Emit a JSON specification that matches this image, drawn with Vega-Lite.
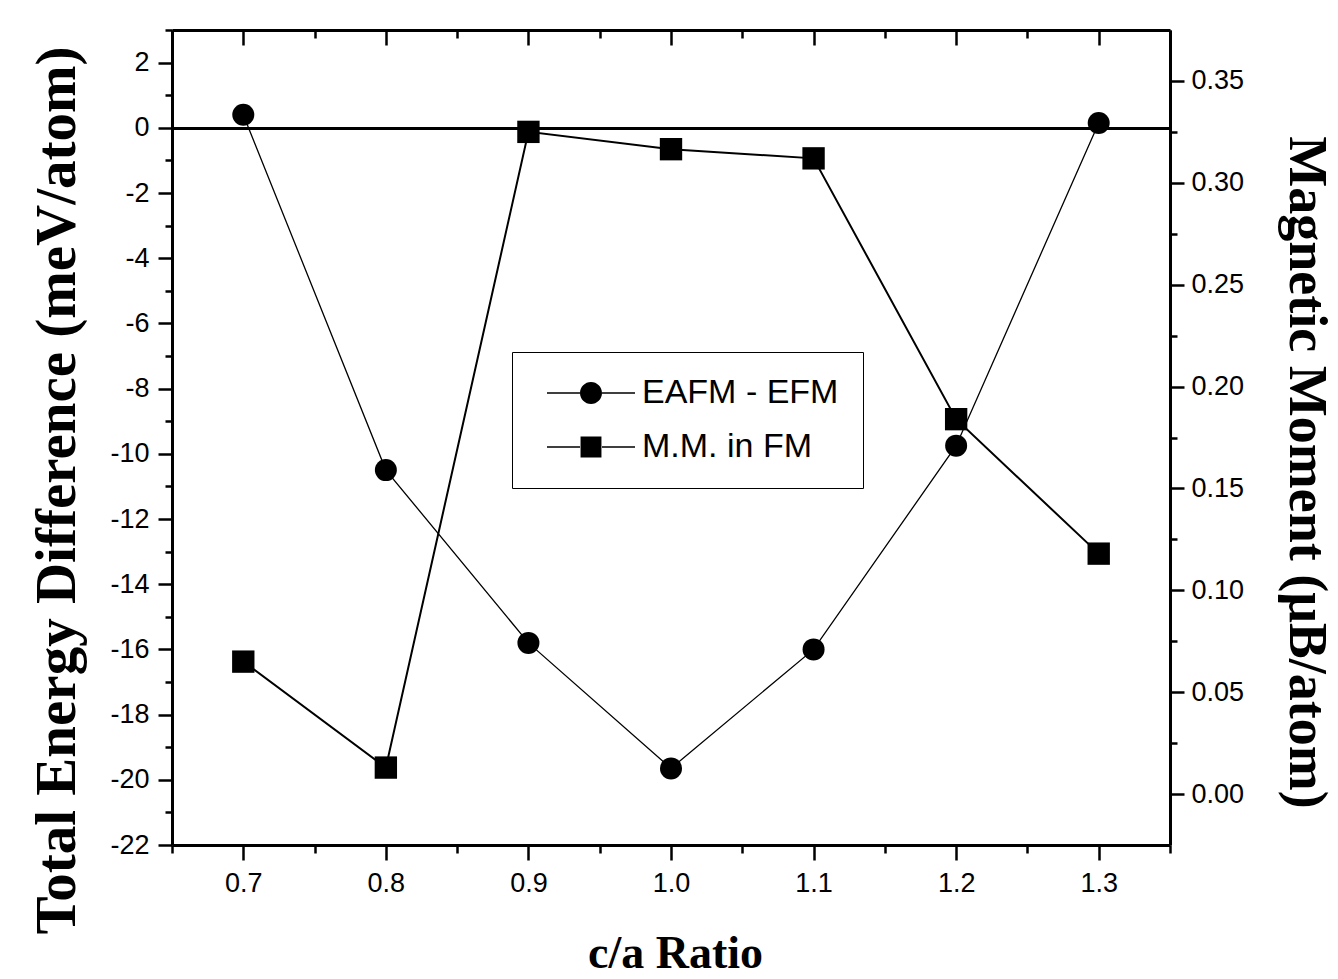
{
  "$schema": "https://vega.github.io/schema/vega-lite/v6.json",
  "width": 998,
  "height": 815,
  "autosize": {"type": "none"},
  "padding": {"left": 172, "top": 30, "right": 168, "bottom": 134},
  "background": "white",
  "config": {
    "view": {"stroke": null},
    "axis": {
      "domainColor": "black",
      "domainWidth": 3,
      "tickColor": "black",
      "tickWidth": 2.5,
      "labelFont": "Liberation Sans",
      "labelFontSize": 27,
      "labelColor": "black",
      "titleFont": "Liberation Serif",
      "titleFontWeight": "bold",
      "titleFontSize": 52,
      "titleColor": "black",
      "grid": false
    }
  },
  "data": {
    "values": [
      {"ratio": 0.7, "series": "EAFM - EFM", "value": 0.4},
      {"ratio": 0.8, "series": "EAFM - EFM", "value": -10.5},
      {"ratio": 0.9, "series": "EAFM - EFM", "value": -15.8},
      {"ratio": 1.0, "series": "EAFM - EFM", "value": -19.65},
      {"ratio": 1.1, "series": "EAFM - EFM", "value": -16.0},
      {"ratio": 1.2, "series": "EAFM - EFM", "value": -9.75},
      {"ratio": 1.3, "series": "EAFM - EFM", "value": 0.15},
      {"ratio": 0.7, "series": "M.M. in FM", "value": 0.065},
      {"ratio": 0.8, "series": "M.M. in FM", "value": 0.013},
      {"ratio": 0.9, "series": "M.M. in FM", "value": 0.325},
      {"ratio": 1.0, "series": "M.M. in FM", "value": 0.3165},
      {"ratio": 1.1, "series": "M.M. in FM", "value": 0.312},
      {"ratio": 1.2, "series": "M.M. in FM", "value": 0.184},
      {"ratio": 1.3, "series": "M.M. in FM", "value": 0.118}
    ]
  },
  "layer": [
    {
      "encoding": {
        "x": {
          "field": "ratio",
          "type": "quantitative",
          "scale": {"domain": [0.65, 1.35], "nice": false, "zero": false},
          "axis": {
            "orient": "bottom",
            "values": [0.65, 0.7, 0.75, 0.8, 0.85, 0.9, 0.95, 1.0, 1.05, 1.1, 1.15, 1.2, 1.25, 1.3, 1.35],
            "tickSize": {"condition": {"test": "round(datum.value*100) % 10 !== 0", "value": 8}, "value": 15},
            "labelExpr": "round(datum.value*100) % 10 === 0 ? format(datum.value, '.1f') : ''",
            "labelPadding": 10,
            "title": "c/a Ratio",
            "titleX": 503,
            "titleY": 108,
            "titleAlign": "center",
            "titleBaseline": "middle",
            "titleFontSize": 46
          }
        },
        "y": {
          "field": "value",
          "type": "quantitative",
          "scale": {"domain": [-22, 3], "nice": false, "zero": false},
          "axis": {
            "orient": "left",
            "values": [-22, -21, -20, -19, -18, -17, -16, -15, -14, -13, -12, -11, -10, -9, -8, -7, -6, -5, -4, -3, -2, -1, 0, 1, 2, 3],
            "tickSize": {"condition": {"test": "datum.value % 2 !== 0", "value": 7}, "value": 14},
            "labelExpr": "datum.value % 2 !== 0 ? '' : (datum.value < 0 ? '-' + format(-datum.value, 'd') : format(datum.value, 'd'))",
            "labelPadding": 9,
            "grid": true,
            "gridColor": "black",
            "gridWidth": 3,
            "gridOpacity": {"condition": {"test": "datum.value === 0", "value": 1}, "value": 0},
            "title": "Total Energy Difference (meV/atom)",
            "titleAngle": 270,
            "titleX": -115,
            "titleY": 460,
            "titleAlign": "center",
            "titleBaseline": "middle",
            "titleFontSize": 57
          }
        }
      },
      "layer": [
        {
          "transform": [{"filter": "datum.series === 'EAFM - EFM'"}],
          "mark": {"type": "line", "color": "black", "strokeWidth": 1.3}
        },
        {
          "transform": [{"filter": "datum.series === 'EAFM - EFM'"}],
          "mark": {"type": "point", "shape": "circle", "filled": true, "color": "black", "opacity": 1, "size": 484}
        },
        {
          "mark": {"type": "point", "filled": true, "color": "black", "opacity": 0, "size": 484},
          "encoding": {
            "shape": {
              "field": "series",
              "type": "nominal",
              "scale": {
                "domain": ["EAFM - EFM", "M.M. in FM"],
                "range": [
                  "M-4,-0.065L-1,-0.065L-1,0.065L-4,0.065ZM1,-0.065L4,-0.065L4,0.065L1,0.065ZM1,0A1,1,0,1,1,-1,0A1,1,0,1,1,1,0Z",
                  "M-4,-0.065L-1,-0.065L-1,0.065L-4,0.065ZM1,-0.065L4,-0.065L4,0.065L1,0.065ZM-0.95,-0.95L0.95,-0.95L0.95,0.95L-0.95,0.95Z"
                ]
              },
              "legend": {
                "orient": "none",
                "legendX": 340,
                "legendY": 322,
                "title": null,
                "labelFont": "Liberation Sans",
                "labelFontSize": 34,
                "labelColor": "black",
                "labelLimit": 500,
                "symbolSize": 484,
                "symbolStrokeWidth": 0,
                "symbolFillColor": "black",
                "symbolOpacity": 1,
                "symbolOffset": 38,
                "labelOffset": 34,
                "padding": 24,
                "rowPadding": 20,
                "strokeColor": "black",
                "fillColor": "white",
                "encode": {
                  "legend": {"update": {"strokeWidth": {"value": 2.5}}}
                }
              }
            }
          }
        }
      ]
    },
    {
      "transform": [{"filter": "datum.series === 'M.M. in FM'"}],
      "encoding": {
        "x": {
          "field": "ratio",
          "type": "quantitative",
          "scale": {"domain": [0.65, 1.35], "nice": false, "zero": false},
          "axis": {
            "orient": "top",
            "values": [0.65, 0.7, 0.75, 0.8, 0.85, 0.9, 0.95, 1.0, 1.05, 1.1, 1.15, 1.2, 1.25, 1.3, 1.35],
            "tickSize": {"condition": {"test": "round(datum.value*100) % 10 !== 0", "value": -8}, "value": -15},
            "labels": false,
            "title": null
          }
        },
        "y": {
          "field": "value",
          "type": "quantitative",
          "scale": {"domain": [-0.025, 0.375], "nice": false, "zero": false},
          "axis": {
            "orient": "right",
            "values": [0, 0.025, 0.05, 0.075, 0.1, 0.125, 0.15, 0.175, 0.2, 0.225, 0.25, 0.275, 0.3, 0.325, 0.35],
            "tickSize": {"condition": {"test": "round(datum.value*1000) % 50 !== 0", "value": 7}, "value": 14},
            "labelExpr": "round(datum.value*1000) % 50 === 0 ? format(datum.value, '.2f') : ''",
            "labelPadding": 7,
            "title": "Magnetic Moment (μB/atom)",
            "titleAngle": 90,
            "titleX": 135,
            "titleY": 442,
            "titleAlign": "center",
            "titleBaseline": "middle",
            "titleFontSize": 54
          }
        }
      },
      "layer": [
        {"mark": {"type": "line", "color": "black", "strokeWidth": 2}},
        {"mark": {"type": "point", "shape": "square", "filled": true, "color": "black", "opacity": 1, "size": 500}}
      ]
    }
  ],
  "resolve": {"scale": {"y": "independent"}, "axis": {"x": "independent", "y": "independent"}}
}
